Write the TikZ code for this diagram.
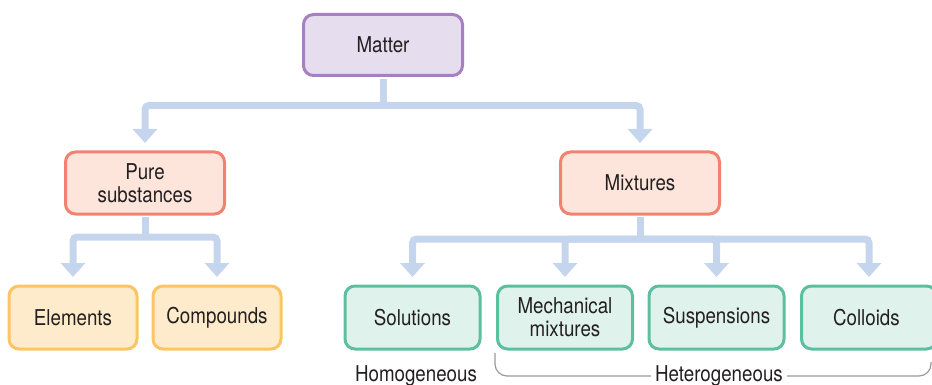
\documentclass[tikz,border=0pt]{standalone}
\usepackage{fontspec}
\setmainfont{TeX Gyre Heros}[FakeStretch=0.86]
\usetikzlibrary{arrows.meta}

\definecolor{txtgray}{HTML}{231F20}
\definecolor{flowblue}{HTML}{C6D5EE}
\definecolor{purplefill}{HTML}{E6DDEE}
\definecolor{purpleline}{HTML}{A780BF}
\definecolor{redfill}{HTML}{FDE5DC}
\definecolor{redline}{HTML}{F0826F}
\definecolor{yellowfill}{HTML}{FEEBCB}
\definecolor{yellowline}{HTML}{FCC462}
\definecolor{greenfill}{HTML}{E0F2EC}
\definecolor{greenline}{HTML}{5CC0A0}
\definecolor{bracegray}{HTML}{9A9A9A}

\tikzset{
	box/.style={rounded corners=5pt, line width=1.5pt, align=center, inner sep=0pt,
		text=txtgray, font=\fontsize{10.9}{11.6}\selectfont},
	topbox/.style={box, fill=purplefill, draw=purpleline, minimum width=79.5pt, minimum height=30.5pt},
	midbox/.style={box, fill=redfill, draw=redline, minimum width=79.5pt, minimum height=31pt},
	purebox/.style={box, fill=yellowfill, draw=yellowline, minimum width=64pt, minimum height=31.5pt},
	mixbox/.style={box, fill=greenfill, draw=greenline, minimum width=67.5pt, minimum height=31.5pt},
	flowline/.style={draw=flowblue, line width=3.5pt, rounded corners=2pt, shorten <=0.8pt},
	flow/.style={flowline, shorten <=0pt, shorten >=3.75pt, -{Triangle[width=12pt,length=7pt]}},
	brace/.style={draw=bracegray, line width=0.6pt, rounded corners=6pt},
	tag/.style={text=txtgray, font=\fontsize{10.9}{11.6}\selectfont, inner sep=2pt}
}

\begin{document}
\begin{tikzpicture}[x=0.5pt,y=-0.5pt]
	\useasboundingbox (0,0) rectangle (932,385);
	\clip (0,0) rectangle (932,385);
	% Kaesten
	\node[topbox] (matter) at (383,45) {Matter};
	\node[midbox] (pure) at (145,183) {Pure\\substances};
	\node[midbox] (mix) at (640,183) {Mixtures};
	\node[purebox] (elem) at (73,317.5) {Elements};
	\node[purebox] (comp) at (217,317.5) {Compounds};
	\foreach \n/\x/\txt in {
		sol/412.5/Solutions,
		mech/565/Mechanical\\mixtures,
		susp/716.5/Suspensions,
		coll/869/Colloids
	} {
		\node[mixbox] (\n) at (\x,317.5) {\txt};
	}
	% Verzweigungen
	\coordinate (j1) at (383,105.5);
	\coordinate (j2) at (145,237);
	\coordinate (j3) at (640,239);
	\draw[flowline] (matter.south) -- (j1);
	\draw[flowline] (pure.south) -- (j2);
	\draw[flowline] (mix.south) -- (j3);
	\foreach \n in {pure,mix} {
		\draw[flow] (j1) -| (\n.north);
	}
	\foreach \n in {elem,comp} {
		\draw[flow] (j2) -| (\n.north);
	}
	\foreach \n in {sol,mech,susp,coll} {
		\draw[flow] (j3) -| (\n.north);
	}
	% Beschriftung unten
	\node[tag] (homog) at (416,376) {Homogeneous};
	\node[tag] (heterog) at (719,376) {Heterogeneous};
	\coordinate (brL) at (495,353);
	\coordinate (brR) at (931,362);
	\draw[brace] (brL) |- (heterog.west);
	\draw[brace] (heterog.east) -| (brR);
\end{tikzpicture}
\end{document}
